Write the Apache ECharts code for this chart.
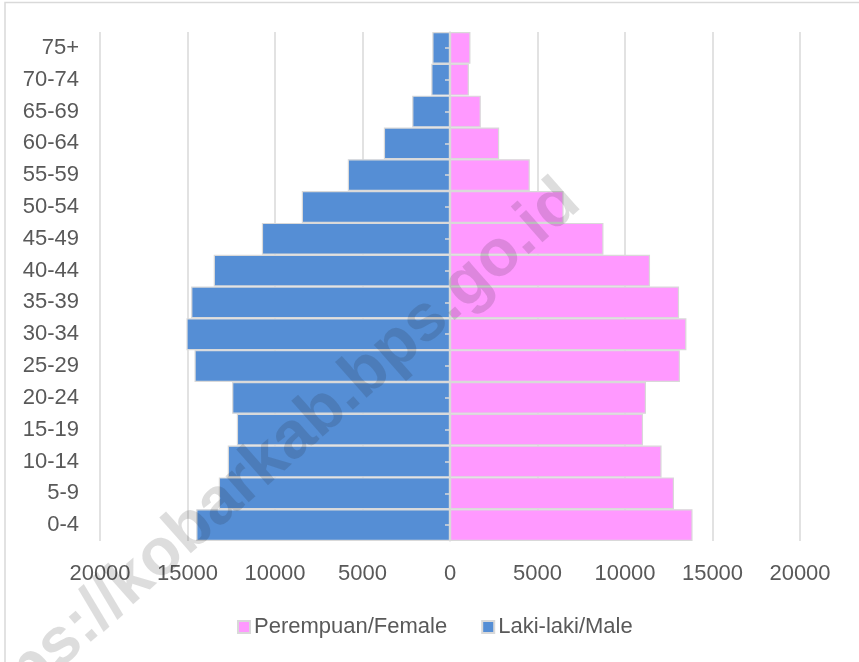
<!DOCTYPE html>
<html>
<head>
<meta charset="utf-8">
<script src="https://cdn.jsdelivr.net/npm/echarts@6/dist/echarts.min.js"></script>
<style>
html,body{margin:0;padding:0;background:#fff;}
#c{width:859px;height:662px;}
</style>
</head>
<body>
<div id="c"></div>
<script>
const categories = ['0-4','5-9','10-14','15-19','20-24','25-29','30-34','35-39','40-44','45-49','50-54','55-59','60-64','65-69','70-74','75+'];
const maleValues = [14500, 13210, 12700, 12180, 12450, 14600, 15060, 14790, 13500, 10750, 8470, 5840, 3780, 2160, 1070, 1010];
const femaleValues = [13860, 12800, 12090, 11030, 11200, 13140, 13510, 13090, 11430, 8770, 6490, 4560, 2810, 1760, 1080, 1170];
const xTicks = [-20000, -15000, -10000, -5000, 0, 5000, 10000, 15000, 20000];
const seriesNames = ['Perempuan/Female', 'Laki-laki/Male'];
const watermark = 'https://kobarkab.bps.go.id';

const FONT = 'Liberation Sans';
const chart = echarts.init(document.getElementById('c'), null, {renderer: 'canvas'});
chart.setOption({
  animation: false,
  backgroundColor: '#fff',
  textStyle: {fontFamily: FONT},
  grid: {left: 100, right: 59, top: 32, bottom: 121, containLabel: false},
  legend: {
    data: seriesNames,
    left: 232,
    top: 611,
    itemWidth: 12,
    itemHeight: 12,
    itemGap: 34,
    icon: 'rect',
    textStyle: {fontFamily: FONT, fontSize: 22, color: '#595959', padding: [0,0,0,-1]}
  },
  xAxis: {
    type: 'value',
    min: xTicks[0],
    max: xTicks[xTicks.length - 1],
    interval: xTicks[1] - xTicks[0],
    axisLine: {show: false},
    axisTick: {show: false},
    splitLine: {show: true, lineStyle: {color: '#d9d9d9', width: 1.5}},
    axisLabel: {
      fontFamily: FONT, fontSize: 22, color: '#595959', margin: 22,
      formatter: v => String(Math.abs(v))
    }
  },
  yAxis: [
    {
      type: 'category',
      data: categories,
      position: 'left',
      axisLine: {show: false, onZero: false},
      axisTick: {show: false},
      splitLine: {show: false},
      axisLabel: {fontFamily: FONT, fontSize: 22, color: '#595959', margin: 21}
    },
    {
      type: 'category',
      data: categories,
      position: 'left',
      z: 10,
      axisLine: {show: true, onZero: true, lineStyle: {color: '#d9d9d9', width: 1.5}},
      axisTick: {show: true, alignWithLabel: true, length: 5, lineStyle: {color: '#d9d9d9', width: 1.5}},
      axisLabel: {show: false},
      splitLine: {show: false}
    }
  ],
  series: [
    {
      name: seriesNames[0],
      type: 'bar',
      data: femaleValues,
      barGap: '-100%',
      barCategoryGap: '0%',
      itemStyle: {color: '#ff99ff', borderColor: '#d9d9d9', borderWidth: 1.2}
    },
    {
      name: seriesNames[1],
      type: 'bar',
      data: maleValues.map(v => -v),
      barGap: '-100%',
      barCategoryGap: '0%',
      itemStyle: {color: '#558ed5', borderColor: '#d9d9d9', borderWidth: 1.2}
    }
  ],
  graphic: [
    {
      type: 'rect',
      z: 0,
      silent: true,
      shape: {x: 5, y: 2.5, width: 870, height: 680},
      style: {fill: 'none', stroke: '#d9d9d9', lineWidth: 1.5}
    },
    {
      type: 'text',
      z: 100,
      silent: true,
      x: 262,
      y: 466,
      rotation: 41.5 * Math.PI / 180,
      style: {
        text: watermark,
        font: 'bold 66px "Liberation Sans"',
        fill: 'rgba(30,30,30,0.15)',
        align: 'center',
        verticalAlign: 'middle',
        textAlign: 'center',
        textVerticalAlign: 'middle'
      }
    }
  ]
});
</script>
</body>
</html>
